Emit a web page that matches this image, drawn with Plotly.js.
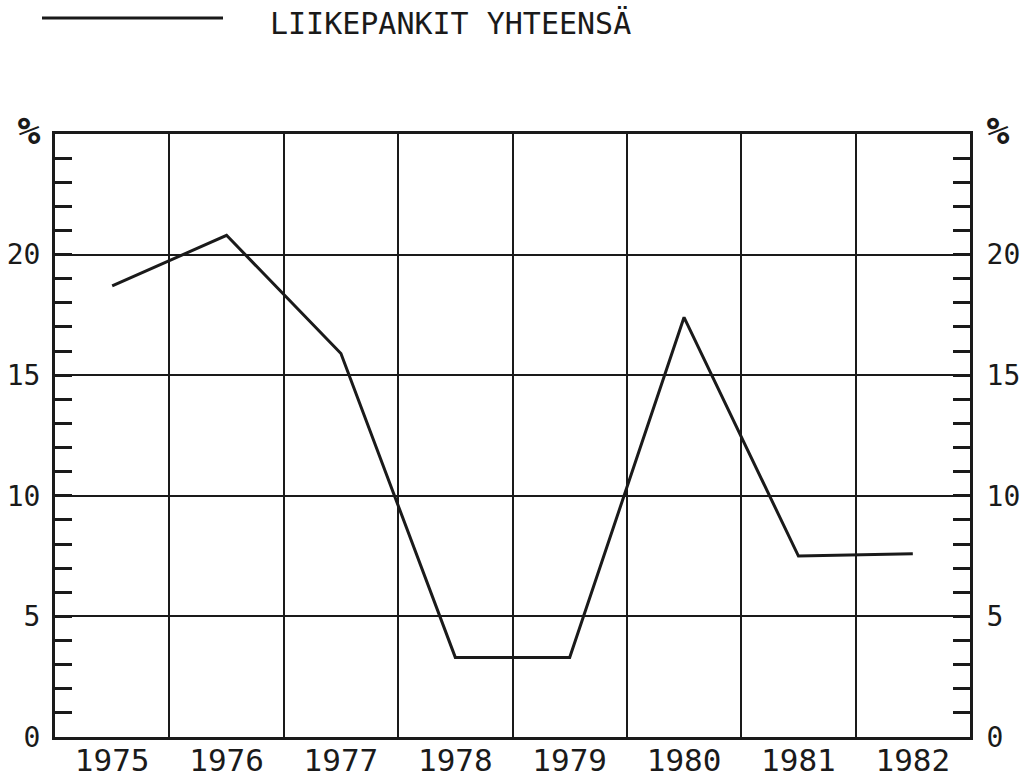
<!DOCTYPE html>
<html>
<head>
<meta charset="utf-8">
<script src="https://cdn.plot.ly/plotly-3.0.1.min.js"></script>
<style>
  html, body { margin: 0; padding: 0; background: #ffffff; }
  #chart { width: 1024px; height: 783px; }
</style>
</head>
<body>
<div id="chart"></div>
<script>
const seriesName = "LIIKEPANKIT YHTEENSÄ";
const years = ["1975", "1976", "1977", "1978", "1979", "1980", "1981", "1982"];
const values = [18.7, 20.8, 15.9, 3.3, 3.3, 17.4, 7.5, 7.6];
const yTickVals = [0, 5, 10, 15, 20, 25];
const yTickText = ["0", "5", "10", "15", "20", "<span style=\"font-size:38px\"><b>%</b></span>"];

const FONT = "DejaVu Sans Mono, monospace";
const INK = "#1a1a1a";

const M = { l: 55, r: 54, t: 134, b: 46 };
const W = 1024, H = 783;
const pw = W - M.l - M.r, ph = H - M.t - M.b;
const px = x => (x - M.l) / pw;
const py = y => (H - M.b - y) / ph;

const yAxisCommon = {
  range: [0, 25],
  autorange: false,
  tickvals: yTickVals,
  ticktext: yTickText,
  ticks: "inside",
  ticklen: 17,
  tickwidth: 3,
  tickcolor: INK,
  minor: { dtick: 1, tick0: 0, ticks: "inside", ticklen: 17, tickwidth: 3, tickcolor: INK, showgrid: false },
  showline: true,
  linecolor: INK,
  linewidth: 3,
  tickfont: { family: FONT, size: 28, color: INK },
  fixedrange: true,
  zeroline: false
};

const trace = {
  x: years,
  y: values,
  type: "scatter",
  mode: "lines",
  name: seriesName,
  line: { color: INK, width: 3 },
  showlegend: false,
  hoverinfo: "x+y"
};

// empty helper trace so the right-hand axis is drawn
const rightAxisHolder = {
  x: [],
  y: [],
  type: "scatter",
  mode: "lines",
  yaxis: "y2",
  showlegend: false,
  hoverinfo: "skip"
};

const layout = {
  width: W,
  height: H,
  margin: M,
  paper_bgcolor: "#ffffff",
  plot_bgcolor: "#ffffff",
  showlegend: false,
  xaxis: {
    type: "category",
    categoryorder: "array",
    categoryarray: years,
    range: [-0.5, years.length - 0.5],
    autorange: false,
    tickson: "boundaries",
    ticks: "",
    ticklabelstandoff: -6,
    showgrid: true,
    gridcolor: INK,
    gridwidth: 2,
    showline: true,
    mirror: true,
    linecolor: INK,
    linewidth: 3,
    tickfont: { family: FONT, size: 31, color: INK },
    fixedrange: true
  },
  yaxis: Object.assign({}, yAxisCommon, {
    side: "left",
    showgrid: true,
    gridcolor: INK,
    gridwidth: 2,
    ticklabelstandoff: 6
  }),
  yaxis2: Object.assign({}, yAxisCommon, {
    side: "right",
    overlaying: "y",
    showgrid: false,
    ticklabelstandoff: 8
  }),
  shapes: [
    {
      type: "line", xref: "paper", yref: "paper",
      x0: px(42), x1: px(223), y0: py(18), y1: py(18),
      line: { color: INK, width: 3 }
    }
  ],
  annotations: [
    {
      xref: "paper", yref: "paper",
      x: px(268), y: py(24),
      xanchor: "left", yanchor: "middle",
      text: seriesName,
      showarrow: false,
      font: { family: FONT, size: 30, color: INK }
    }
  ]
};

Plotly.newPlot("chart", [trace, rightAxisHolder], layout, { staticPlot: true, displayModeBar: false });
</script>
</body>
</html>
